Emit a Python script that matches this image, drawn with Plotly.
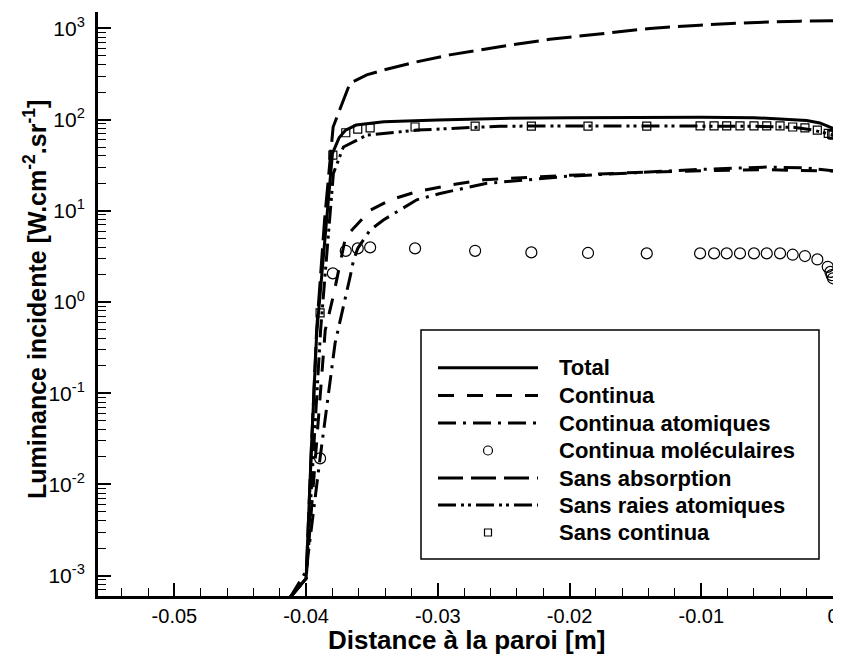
import plotly.graph_objects as go

# ---------------- data ----------------
total_x = [-0.0412, -0.0400, -0.0396, -0.0392, -0.0387, -0.0380, -0.0375, -0.0370, -0.0362, -0.0341,
           -0.0300, -0.0253, -0.0200, -0.0150, -0.0100, -0.0060, -0.0040, -0.0020, -0.0010, 0.0]
total_y = [5.8e-4, 9.3e-4, 0.025, 0.45, 3.0, 42.7, 63.1, 76.7, 87.1, 94.6,
           98.9, 103.0, 105.0, 106.0, 106.0, 105.0, 102.0, 98.0, 92.0, 80.0]

continua_x = [-0.0412, -0.0400, -0.0395, -0.03855, -0.0379, -0.0370, -0.0351, -0.0336, -0.0316, -0.0291,
              -0.0265, -0.0230, -0.0200, -0.0150, -0.0100, -0.0050, -0.0020, 0.0]
continua_y = [5.8e-4, 9.3e-4, 0.008, 0.49, 1.23, 5.19, 10.2, 13.2, 16.2, 19.1,
              21.9, 23.5, 24.5, 26.3, 27.5, 28.2, 27.8, 27.3]

cont_atom_x = [-0.0412, -0.0400, -0.03894, -0.0378, -0.03666, -0.0364, -0.03608, -0.03514, -0.03413, -0.0316,
               -0.02983, -0.02628, -0.0200, -0.0150, -0.0100, -0.0050, -0.0020, 0.0]
cont_atom_y = [5.8e-4, 1.12e-3, 0.0195, 0.355, 1.89, 2.88, 3.87, 6.17, 7.94, 13.2,
               15.5, 20.0, 24.0, 26.3, 28.5, 30.2, 29.5, 27.5]

mol_x = [-0.03894, -0.03797, -0.03699, -0.03608, -0.03514, -0.03173, -0.02717, -0.0229, -0.0186, -0.01414,
         -0.01009, -0.00903, -0.00807, -0.00706, -0.00600, -0.00503, -0.00402, -0.00306, -0.00213, -0.00119,
         -0.00040, -0.00020, -0.00010, 0.0]
mol_y = [0.0193, 2.06, 3.64, 3.87, 3.97, 3.87, 3.64, 3.50, 3.45, 3.41,
         3.41, 3.41, 3.41, 3.41, 3.41, 3.41, 3.41, 3.30, 3.19, 2.93,
         2.43, 2.14, 1.97, 1.82]

sans_abs_x = [-0.0412, -0.0400, -0.0396, -0.0392, -0.0386, -0.03795, -0.03667, -0.0354, -0.0342, -0.0317,
              -0.0291, -0.0253, -0.0215, -0.0177, -0.0139, -0.0101, -0.0063, -0.0025, 0.0]
sans_abs_y = [5.8e-4, 9.3e-4, 0.025, 0.5, 7.9, 83.0, 251.0, 309.0, 347.0, 427.0,
              513.0, 631.0, 759.0, 871.0, 1000.0, 1086.0, 1156.0, 1202.0, 1211.0]

sans_raies_x = [-0.0412, -0.0400, -0.0395, -0.0389, -0.0384, -0.03793, -0.03717, -0.0354, -0.0316, -0.02528,
                -0.0200, -0.0150, -0.0100, -0.0060, -0.0030, -0.0015, 0.0]
sans_raies_y = [5.8e-4, 9.3e-4, 0.016, 0.49, 3.78, 25.7, 50.1, 67.6, 76.7, 84.7,
                85.1, 85.1, 85.1, 84.7, 82.2, 76.7, 67.6]

sans_cont_x = [-0.03894, -0.03797, -0.03699, -0.03608, -0.03514, -0.03173, -0.02717, -0.0229, -0.0186, -0.01414,
               -0.01009, -0.00903, -0.00807, -0.00706, -0.00600, -0.00503, -0.00402, -0.00306, -0.00213, -0.00119,
               -0.00036, -0.00010, 0.0]
sans_cont_y = [0.76, 40.8, 71.8, 78.7, 81.0, 83.0, 84.8, 85.0, 85.0, 84.8,
               85.4, 85.4, 85.4, 85.4, 85.4, 85.4, 85.4, 83.0, 81.0, 76.7,
               70.8, 69.0, 67.6]

series_names = ["Total", "Continua", "Continua atomiques", "Continua moléculaires",
                "Sans absorption", "Sans raies atomiques", "Sans continua"]

x_tickvals = [-0.05, -0.04, -0.03, -0.02, -0.01, 0.0]
x_ticktext = ["-0.05", "-0.04", "-0.03", "-0.02", "-0.01", "0"]
y_tickvals = [1e-3, 1e-2, 1e-1, 1e0, 1e1, 1e2, 1e3]
y_ticktext = ["10<sup>-3</sup>", "10<sup>-2</sup>", "10<sup>-1</sup>", "10<sup>0</sup>",
              "10<sup>1</sup>", "10<sup>2</sup>", "10<sup>3</sup>"]
x_title = "Distance à la paroi [m]"
y_title = "Luminance incidente [W.cm<sup>-2</sup>.sr<sup>-1</sup>]"

# ---------------- styles ----------------
FONT = "Liberation Sans, Arial, Helvetica, sans-serif"
OFF = 8                      # page body margin of the generated html
W, H = 841, 661
ML, MR, MT, MB = 90, 16, 4, 73   # plot area on screen: x 98..833, y 12..596
PW, PH = W - ML - MR, H - MT - MB

dashes = {
    "Total": "solid",
    "Continua": "16px,13px",
    "Continua atomiques": "18px,7px,3px,7px",
    "Sans absorption": "25px,8px",
    "Sans raies atomiques": "18px,5px,3px,4px,3px,5px",
}

fig = go.Figure()

def add_line(x, y, name, width=3):
    fig.add_trace(go.Scatter(x=x, y=y, mode="lines", name=name, showlegend=False,
                             line=dict(color="black", width=width, dash=dashes[name])))

add_line(sans_abs_x, sans_abs_y, "Sans absorption", 3)
add_line(continua_x, continua_y, "Continua", 3)
add_line(cont_atom_x, cont_atom_y, "Continua atomiques", 3)
add_line(sans_raies_x, sans_raies_y, "Sans raies atomiques", 3)
add_line(total_x, total_y, "Total", 3)

fig.add_trace(go.Scatter(x=mol_x, y=mol_y, mode="markers", name="Continua moléculaires", showlegend=False,
                         marker=dict(symbol="circle-open", size=11, color="black", line=dict(width=1.2))))
fig.add_trace(go.Scatter(x=sans_cont_x, y=sans_cont_y, mode="markers", name="Sans continua", showlegend=False,
                         marker=dict(symbol="square-open", size=8, color="black", line=dict(width=1.2))))

# ---------------- manual legend (screen-pixel layout of the reference) ----------------
def px(xs):
    return (xs - OFF - ML) / PW

def py(ys):
    return (H - MB - (ys - OFF)) / PH

shapes = []
shapes.append(dict(type="rect", xref="paper", yref="paper", x0=px(421), x1=px(819), y0=py(559), y1=py(330),
                   line=dict(color="black", width=1.5), fillcolor="white", layer="above"))
row_y = [367.7, 395.5, 423.0, 450.5, 478.0, 505.0, 532.5]
annotations = []
for name, ry in zip(series_names, row_y):
    if name == "Continua moléculaires":
        shapes.append(dict(type="circle", xref="paper", yref="paper", xsizemode="pixel", ysizemode="pixel",
                           xanchor=px(488), yanchor=py(ry), x0=-4.5, x1=4.5, y0=-4.5, y1=4.5,
                           line=dict(color="black", width=1.2), layer="above"))
    elif name == "Sans continua":
        shapes.append(dict(type="rect", xref="paper", yref="paper", xsizemode="pixel", ysizemode="pixel",
                           xanchor=px(488), yanchor=py(ry), x0=-3.5, x1=3.5, y0=-3.5, y1=3.5,
                           line=dict(color="black", width=1.2), layer="above"))
    else:
        shapes.append(dict(type="line", xref="paper", yref="paper", x0=px(438), x1=px(538),
                           y0=py(ry), y1=py(ry), line=dict(color="black", width=3, dash=dashes[name]),
                           layer="above"))
    annotations.append(dict(xref="paper", yref="paper", x=px(557), y=py(ry), text="<b>" + name + "</b>",
                            showarrow=False, xanchor="left", yanchor="middle",
                            font=dict(family=FONT, size=22, color="black")))

# axis titles
annotations.append(dict(xref="paper", yref="paper", x=px(466), y=py(640), text="<b>" + x_title + "</b>",
                        showarrow=False, xanchor="center", yanchor="middle",
                        font=dict(family=FONT, size=26, color="black")))
annotations.append(dict(xref="paper", yref="paper", x=px(35), y=py(300), text="<b>" + y_title + "</b>",
                        showarrow=False, xanchor="center", yanchor="middle", textangle=-90,
                        font=dict(family=FONT, size=25, color="black")))

minor_y = [m * 10 ** e for e in range(-4, 4) for m in range(2, 10)]

fig.update_layout(
    width=W, height=H,
    margin=dict(l=ML, r=MR, t=MT, b=MB, autoexpand=False),
    paper_bgcolor="white", plot_bgcolor="white",
    font=dict(family=FONT, size=20, color="black"),
    shapes=shapes, annotations=annotations,
    showlegend=False,
    xaxis=dict(
        range=[-0.0558, 0.0], showgrid=False, zeroline=False, automargin=False,
        showline=True, linecolor="black", linewidth=3,
        ticks="inside", ticklen=13, tickwidth=2, tickcolor="black",
        tickmode="array", tickvals=x_tickvals, ticktext=x_ticktext,
        tickfont=dict(family=FONT, size=20), ticklabelstandoff=0,
        minor=dict(ticks="inside", ticklen=8, tickwidth=1, tickcolor="black", dtick=0.002, showgrid=False),
    ),
    yaxis=dict(
        type="log", range=[-3.224, 3.18], showgrid=False, zeroline=False, automargin=False,
        showline=True, linecolor="black", linewidth=3,
        ticks="inside", ticklen=13, tickwidth=2, tickcolor="black",
        tickmode="array", tickvals=y_tickvals, ticktext=y_ticktext,
        tickfont=dict(family=FONT, size=21), ticklabelstandoff=6,
        minor=dict(ticks="inside", ticklen=8, tickwidth=1, tickcolor="black",
                   tickmode="array", tickvals=minor_y, showgrid=False),
    ),
)

fig.write_html("out.html")
